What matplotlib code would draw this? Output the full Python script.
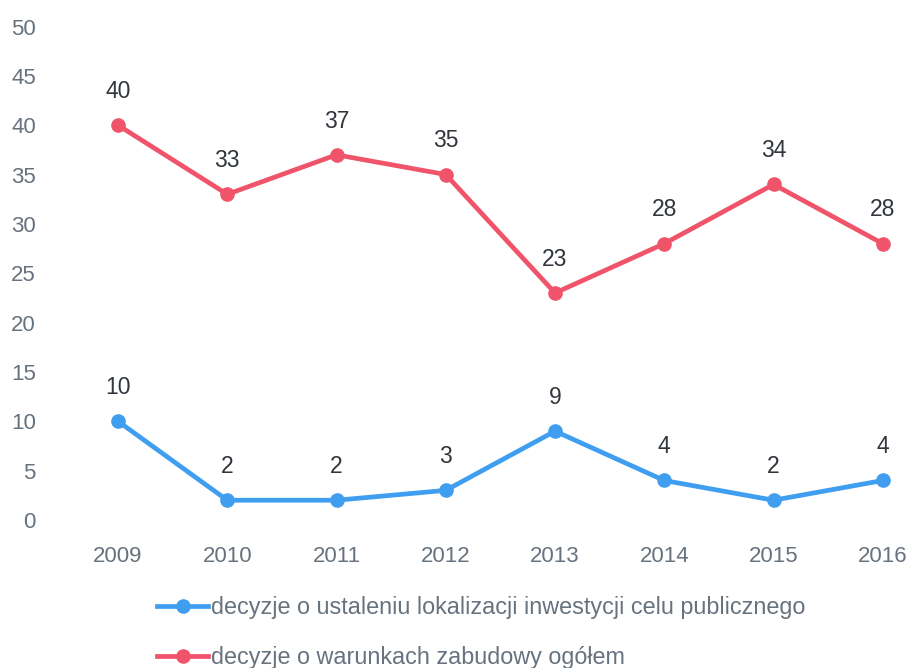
import matplotlib
matplotlib.use('Agg')
import matplotlib.pyplot as plt

# dane z wykresu
lata = ['2009', '2010', '2011', '2012', '2013', '2014', '2015', '2016']
lokalizacja = [10, 2, 2, 3, 9, 4, 2, 4]
warunki = [40, 33, 37, 35, 23, 28, 34, 28]
etykiety_legendy = ['decyzje o ustaleniu lokalizacji inwestycji celu publicznego',
                    'decyzje o warunkach zabudowy ogółem']

plt.rcParams['font.family'] = ['Liberation Sans', 'DejaVu Sans']

niebieski = '#3f9ef0'
czerwony = '#f0546a'
szary = '#67727f'

fig = plt.figure(figsize=(9.09, 6.68), dpi=100)
ax = fig.add_axes([40 / 909, 128 / 668, 869 / 909, 520 / 668])

x = range(len(lata))
ax.plot(x, lokalizacja, color=niebieski, lw=3.4, marker='o', ms=9.5, label=etykiety_legendy[0])
ax.plot(x, warunki, color=czerwony, lw=3.4, marker='o', ms=9.5, label=etykiety_legendy[1])

# etykiety wartości nad punktami
for seria in (lokalizacja, warunki):
    for i, v in enumerate(seria):
        ax.annotate(str(v), (i, v), xytext=(0, 16), textcoords='offset points',
                    ha='center', va='bottom', fontsize=16.5, color='#30363c')

ax.set_xlim(-0.714, 7.24)
ax.set_ylim(-2.03, 50.66)
ax.set_yticks(range(0, 51, 5))
ax.set_xticks(list(x))
ax.set_xticklabels(lata)
ax.tick_params(length=0, labelsize=16, colors=szary)
ax.tick_params(axis='y', pad=3)
ax.tick_params(axis='x', pad=4)
for s in ax.spines.values():
    s.set_visible(False)

fig.legend(loc='upper left', bbox_to_anchor=(157 / 909, 1 - 596 / 668), frameon=False,
           fontsize=16.8, labelcolor=szary, handlelength=2.2, handletextpad=0.12,
           labelspacing=1.15, borderpad=0, borderaxespad=0)

fig.savefig('out.png', dpi=100)
